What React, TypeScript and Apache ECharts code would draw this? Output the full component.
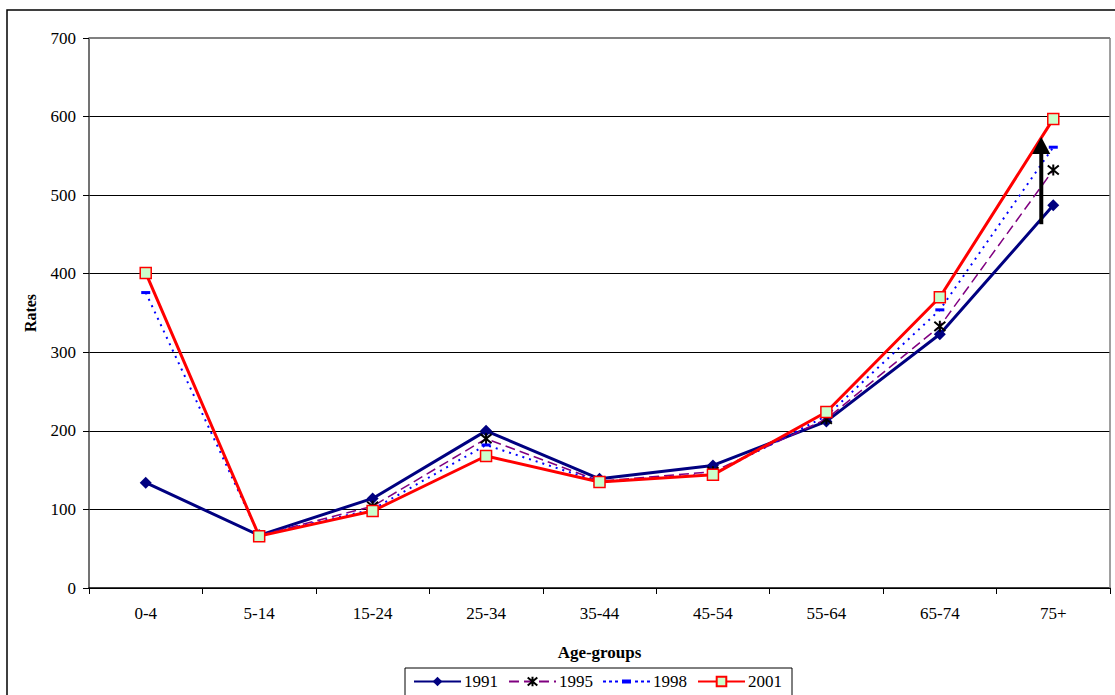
import React, { useEffect, useRef } from "react";
import * as echarts from "echarts";

// Age groups on the category axis
const ageGroups = ["0-4", "5-14", "15-24", "25-34", "35-44", "45-54", "55-64", "65-74", "75+"];

// Rates per age group for each year ("-" = no value)
const rates1991 = [134, 67, 114, 200, 139, 156, 212, 323, 487];
const rates1995: (number | string)[] = ["-", 67, 104, 190, 136, 148, 215, 333, 532];
const rates1998 = [376, 67, 100, 182, 135, 145, 219, 354, 561];
const rates2001 = [401, 66, 98, 168, 135, 144, 224, 370, 597];

const yTicks = [0, 100, 200, 300, 400, 500, 600, 700];

// Arrow showing the rise in the oldest age group
const arrowFrom = 463;
const arrowTo = 574;

const FONT = "'Liberation Serif', 'Times New Roman', serif";

// Asterisk marker: an X crossed by a vertical stroke
const STAR = "path://M0,0 L10,10 M10,0 L0,10 M5,-1 L5,11";
// Legend key for the dotted series: dots with a short dash in the middle (47x12 box)
const DOTTED_KEY =
  "path://M0,0 M47,12 M0,5 h3 v2 h-3 Z M6,5 h3 v2 h-3 Z M12,5 h3 v2 h-3 Z " +
  "M19,4 h9 v4 h-9 Z M32,5 h3 v2 h-3 Z M38,5 h3 v2 h-3 Z M44,5 h3 v2 h-3 Z";

export default function App() {
  const ref = useRef<HTMLDivElement>(null);

  useEffect(() => {
    if (!ref.current) return;
    const chart = echarts.init(ref.current, undefined, { renderer: "svg" });

    chart.setOption({
      animation: false,
      backgroundColor: "#fff",
      textStyle: { fontFamily: FONT },
      grid: { left: 89, right: 5, top: 38, bottom: 107, containLabel: false },
      legend: {
        left: 405,
        top: 668,
        padding: [5, 10, 10, 8],
        borderColor: "#000",
        borderWidth: 1,
        itemWidth: 47,
        itemHeight: 12,
        itemGap: 10,
        textStyle: { fontFamily: FONT, fontSize: 17, color: "#000", padding: [0, 0, 0, -2] },
        data: [
          { name: "1991" },
          { name: "1995" },
          { name: "1998", icon: DOTTED_KEY },
          { name: "2001" },
        ],
      },
      xAxis: {
        type: "category",
        data: ageGroups,
        boundaryGap: true,
        name: "Age-groups",
        nameLocation: "middle",
        nameGap: 56,
        nameTextStyle: { fontFamily: FONT, fontSize: 17, fontWeight: "bold", color: "#000" },
        axisLine: { lineStyle: { color: "#000", width: 1.5 } },
        axisTick: { show: true, length: 6, inside: false, lineStyle: { color: "#000" } },
        axisLabel: { fontFamily: FONT, fontSize: 17, color: "#000", margin: 17 },
        splitLine: { show: false },
      },
      yAxis: {
        type: "value",
        min: 0,
        max: 700,
        interval: 100,
        name: "Rates",
        nameLocation: "middle",
        nameGap: 51,
        nameRotate: 90,
        nameTextStyle: { fontFamily: FONT, fontSize: 16, fontWeight: "bold", color: "#000" },
        axisLine: { show: true, lineStyle: { color: "#444", width: 1.5 } },
        axisTick: { show: true, length: 6, inside: false, lineStyle: { color: "#000" } },
        axisLabel: {
          fontFamily: FONT,
          fontSize: 17,
          color: "#000",
          margin: 13,
          formatter: (v: number) => (yTicks.includes(v) ? String(v) : ""),
        },
        splitLine: { show: true, lineStyle: { color: "#000", width: 1 } },
      },
      series: [
        {
          name: "1991",
          type: "line",
          data: rates1991,
          symbol: "diamond",
          symbolSize: 12,
          lineStyle: { color: "#000080", width: 3 },
          itemStyle: { color: "#000080" },
          z: 3,
        },
        {
          name: "1995",
          type: "line",
          data: rates1995,
          symbol: STAR,
          symbolSize: 11,
          lineStyle: { color: "#800080", width: 1.5, type: [10, 5] },
          itemStyle: { color: "none", borderColor: "#000", borderWidth: 2 },
          z: 4,
        },
        {
          name: "1998",
          type: "line",
          data: rates1998,
          symbol: "rect",
          symbolSize: [9, 3],
          lineStyle: { color: "#0000FF", width: 2, type: [2, 5] },
          itemStyle: { color: "#0000FF" },
          z: 4,
        },
        {
          name: "2001",
          type: "line",
          data: rates2001,
          symbol: "rect",
          symbolSize: 11,
          lineStyle: { color: "#FF0000", width: 3 },
          itemStyle: { color: "#CCFFCC", borderColor: "#FF0000", borderWidth: 1.5 },
          z: 5,
        },
      ],
    });

    // Frame, plot border and the arrow are placed from the axis scales
    const last = ageGroups[ageGroups.length - 1];
    const [ax, ay0] = chart.convertToPixel({ gridIndex: 0 }, [last, arrowFrom]) as number[];
    const [, ay1] = chart.convertToPixel({ gridIndex: 0 }, [last, arrowTo]) as number[];
    const [, yTop] = chart.convertToPixel({ gridIndex: 0 }, [ageGroups[0], 700]) as number[];
    const [, yBot] = chart.convertToPixel({ gridIndex: 0 }, [ageGroups[0], 0]) as number[];
    const width = chart.getWidth();
    const plotRight = width - 5;
    const x = ax - 12;
    const headH = 17;
    const headW = 9;

    chart.setOption({
      graphic: [
        {
          type: "rect",
          shape: { x: 7, y: 10, width: width + 20, height: 800 },
          style: { fill: "none", stroke: "#000", lineWidth: 1.5 },
          silent: true,
          z: 0,
        },
        {
          type: "line",
          shape: { x1: 89, y1: yTop, x2: plotRight, y2: yTop },
          style: { stroke: "#808080", lineWidth: 2 },
          z: 1,
        },
        {
          type: "line",
          shape: { x1: plotRight, y1: yTop, x2: plotRight, y2: yBot },
          style: { stroke: "#808080", lineWidth: 1.5 },
          z: 1,
        },
        {
          type: "line",
          shape: { x1: x, y1: ay0, x2: x, y2: ay1 + headH - 1 },
          style: { stroke: "#000", lineWidth: 4 },
          z: 100,
        },
        {
          type: "polygon",
          shape: {
            points: [
              [x, ay1],
              [x - headW, ay1 + headH],
              [x + headW, ay1 + headH],
            ],
          },
          style: { fill: "#000" },
          z: 100,
        },
      ],
    });

    return () => chart.dispose();
  }, []);

  return (
    <div
      ref={ref}
      style={{ position: "fixed", left: 0, top: 0, width: 1115, height: 695, background: "#fff" }}
    />
  );
}
